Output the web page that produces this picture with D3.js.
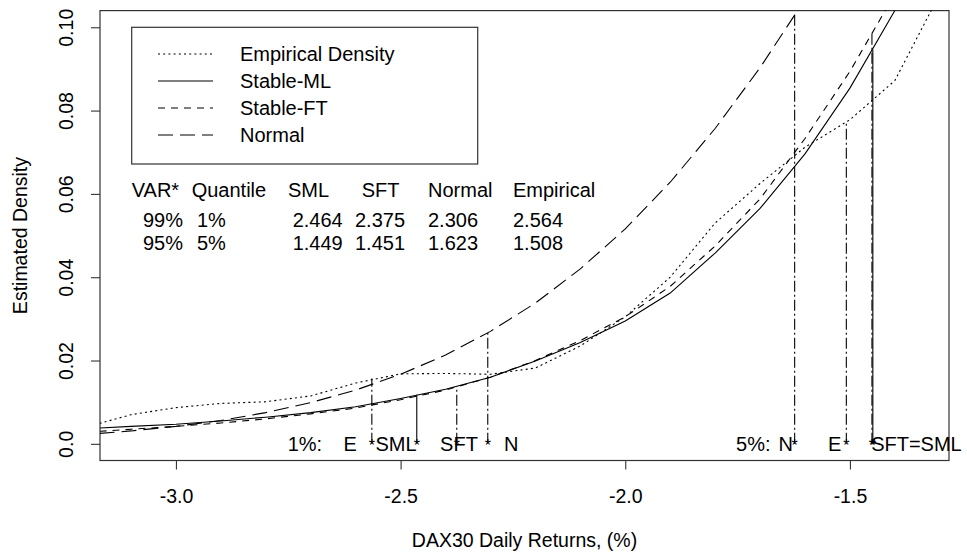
<!DOCTYPE html>
<html>
<head>
<meta charset="utf-8">
<script src="https://cdn.jsdelivr.net/npm/d3@7"></script>
<style>
  html, body { margin: 0; padding: 0; background: #fff; }
  svg { display: block; font-family: "Liberation Sans", Arial, Helvetica, sans-serif; }
</style>
</head>
<body>
<svg id="chart" width="967" height="557"></svg>
<script>
// ---------------- data ----------------
const xGrid      = [-3.17, -3.1, -3.0, -2.9, -2.8, -2.7, -2.6, -2.5, -2.4, -2.3, -2.2, -2.1, -2.0, -1.9, -1.8, -1.7, -1.6, -1.5, -1.4, -1.3];
const empirical  = [0.0049, 0.0070, 0.0087, 0.0097, 0.0101, 0.0115, 0.0146, 0.0168, 0.0169, 0.0167, 0.0182, 0.0235, 0.0305, 0.0400, 0.0530, 0.0625, 0.0712, 0.0778, 0.0872, 0.1080];
const stableML   = [0.0038, 0.0042, 0.0047, 0.0055, 0.0064, 0.0075, 0.0089, 0.0109, 0.0131, 0.0160, 0.0199, 0.0243, 0.0295, 0.0362, 0.0458, 0.0565, 0.0696, 0.0854, 0.1040, 0.1250];
const stableFT   = [0.0030, 0.0035, 0.0042, 0.0050, 0.0060, 0.0072, 0.0086, 0.0106, 0.0129, 0.0160, 0.0200, 0.0248, 0.0305, 0.0378, 0.0475, 0.0588, 0.0733, 0.0894, 0.1080, 0.1300];
const normal     = [0.0025, 0.0031, 0.0042, 0.0056, 0.0075, 0.0099, 0.0129, 0.0167, 0.0213, 0.0270, 0.0338, 0.0420, 0.0516, 0.0628, 0.0757, 0.0903, 0.1067, 0.1250, 0.1450, 0.1660];

const seriesNames  = ["Empirical Density", "Stable-ML", "Stable-FT", "Normal"];

// VaR quantiles (negative returns) and densities at them
const methods      = ["SML", "SFT", "Normal", "Empirical"];
const quantile1    = [-2.464, -2.375, -2.306, -2.564];
const density1     = [0.0118, 0.0138, 0.0266, 0.0157];
const quantile5    = [-1.449, -1.451, -1.623, -1.508];
const density5     = [0.0946, 0.0990, 0.1030, 0.0770];

// table
const tableHeader  = ["VAR*", "Quantile", "SML", "SFT", "Normal", "Empirical"];
const tableRow99   = ["99%", "1%", "2.464", "2.375", "2.306", "2.564"];
const tableRow95   = ["95%", "5%", "1.449", "1.451", "1.623", "1.508"];

// bottom annotation labels (x in data units)
const labels1      = ["1%:", "E", "SML", "SFT", "N"];
const labels1X     = [-2.713, -2.612, -2.510, -2.370, -2.254];
const labels5      = ["5%:", "N", "E", "SFT=SML"];
const labels5X     = [-1.715, -1.643, -1.534, -1.352];

const xTicks = [-3.0, -2.5, -2.0, -1.5];
const yTicks = [0, 0.02, 0.04, 0.06, 0.08, 0.10];

// ---------------- layout ----------------
const FS = 20, FSA = 19.5;
const L = 100, R = 949, T = 10.6, B = 460.5;
const svg = d3.select("#chart");
const x = d3.scaleLinear().domain([-3.169, -1.2795]).range([L, R]);
const y = d3.scaleLinear().domain([-0.004, 0.104]).range([B, T]);
const axisCol = "#333";

svg.append("defs").append("clipPath").attr("id", "plotclip")
  .append("rect").attr("x", L).attr("y", T).attr("width", R - L).attr("height", B - T);

// axes
const gx = svg.append("g").attr("transform", `translate(0,${B})`)
  .call(d3.axisBottom(x).tickValues(xTicks).tickFormat(d3.format(".1f")).tickSize(9).tickSizeOuter(0));
gx.select(".domain").remove();
gx.selectAll("line").attr("stroke", axisCol).attr("stroke-width", 1.1);
gx.selectAll("text").attr("y", 42.5).attr("dy", null)
  .attr("font-size", FSA).attr("fill", "#000").attr("font-family", "Liberation Sans, Arial, sans-serif")
  .text(d => d3.format(".1f")(d).replace("−", "-"));

const gy = svg.append("g").attr("transform", `translate(${L},0)`)
  .call(d3.axisLeft(y).tickValues(yTicks).tickFormat(d => d === 0 ? "0.0" : d3.format(".2f")(d)).tickSize(9).tickSizeOuter(0));
gy.select(".domain").remove();
gy.selectAll("line").attr("stroke", axisCol).attr("stroke-width", 1.1);
gy.selectAll("text").attr("x", 0).attr("y", -27).attr("dy", null)
  .attr("transform", "rotate(-90)").attr("text-anchor", "middle")
  .attr("font-size", FSA).attr("fill", "#000").attr("font-family", "Liberation Sans, Arial, sans-serif");

// box
svg.append("rect").attr("x", L).attr("y", T).attr("width", R - L).attr("height", B - T)
  .attr("fill", "none").attr("stroke", axisCol).attr("stroke-width", 1.2);

// axis titles
svg.append("text").attr("x", (L + R) / 2).attr("y", 547).attr("text-anchor", "middle")
  .attr("font-size", FSA).text("DAX30 Daily Returns, (%)");
svg.append("text").attr("transform", `translate(27,${(T + B) / 2}) rotate(-90)`).attr("text-anchor", "middle")
  .attr("font-size", FSA).text("Estimated Density");

// curves
const styles = [
  { data: empirical, dash: "2,3.2" },
  { data: stableML,  dash: null },
  { data: stableFT,  dash: "7,6" },
  { data: normal,    dash: "15,7" }
];
const line = d3.line().x(d => x(d[0])).y(d => y(d[1]));
const gc = svg.append("g").attr("clip-path", "url(#plotclip)");
styles.forEach(s => {
  gc.append("path").datum(xGrid.map((xv, i) => [xv, s.data[i]]))
    .attr("d", line).attr("fill", "none").attr("stroke", "#000").attr("stroke-width", 1.1)
    .attr("stroke-dasharray", s.dash);
});

// quantile vertical lines
function vlines(qs, ds) {
  qs.forEach((q, i) => {
    gc.append("line").attr("x1", x(q)).attr("x2", x(q)).attr("y1", y(0)).attr("y2", y(ds[i]))
      .attr("stroke", "#000").attr("stroke-width", 1.1)
      .attr("stroke-dasharray", methods[i] === "SML" ? null : "11,3,2,3");
    svg.append("text").attr("x", x(q)).attr("y", 451).attr("text-anchor", "middle")
      .attr("font-size", FS * 0.8).text("*");
  });
}
vlines(quantile1, density1);
vlines(quantile5, density5);

// bottom labels
labels1.forEach((t, i) => svg.append("text").attr("x", x(labels1X[i])).attr("y", 451)
  .attr("text-anchor", "middle").attr("font-size", FS).text(t));
labels5.forEach((t, i) => svg.append("text").attr("x", x(labels5X[i])).attr("y", 451)
  .attr("text-anchor", "middle").attr("font-size", FS).text(t));

// table
const colX = [131.7, 191.7, 288, 361.7, 428, 513];
const rowX = [143, 197, 292.7, 355, 428, 513];
const rowsY = [197, 226.5, 250];
[tableHeader, tableRow99, tableRow95].forEach((row, r) => {
  row.forEach((t, c) => svg.append("text").attr("x", r === 0 ? colX[c] : rowX[c]).attr("y", rowsY[r])
    .attr("font-size", FS).text(t));
});

// legend
const lg = svg.append("g");
lg.append("rect").attr("x", 131.7).attr("y", 27.3).attr("width", 346).attr("height", 136.7)
  .attr("fill", "#fff").attr("stroke", axisCol).attr("stroke-width", 1.2);
seriesNames.forEach((n, i) => {
  const cy = 54 + i * 27;
  lg.append("line").attr("x1", 158).attr("x2", 213).attr("y1", cy).attr("y2", cy)
    .attr("stroke", "#000").attr("stroke-width", 1.1).attr("stroke-dasharray", styles[i].dash);
  lg.append("text").attr("x", 240).attr("y", cy + 7).attr("font-size", FS).text(n);
});
</script>
</body>
</html>
